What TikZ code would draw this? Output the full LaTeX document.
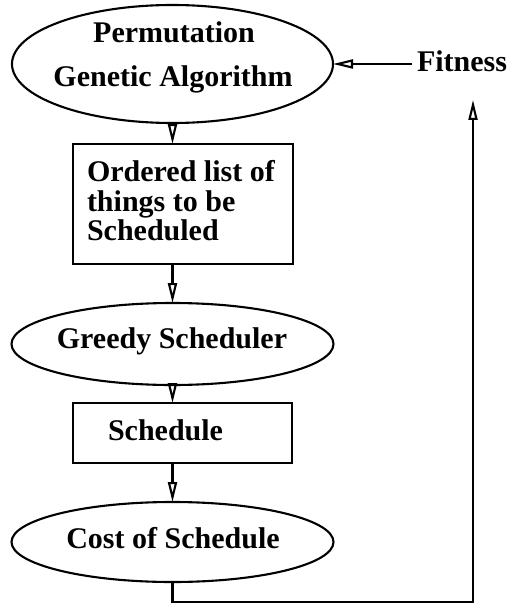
\documentclass[tikz,border=0pt]{standalone}
\usepackage{fontspec}
\setmainfont{Liberation Serif}
\usetikzlibrary{shapes.geometric,arrows.meta}
\begin{document}
\begin{tikzpicture}[x=1pt,y=-1pt,
  every node/.style={font=\bfseries\fontsize{30}{30}\selectfont},
  ell/.style={draw,ellipse,line width=2.1pt,inner sep=0pt,outer sep=0pt},
  rbox/.style={draw,rectangle,line width=2.1pt,inner sep=0pt,outer sep=0pt},
  txt/.style={inner sep=0pt,outer sep=0pt},
  arr/.style={line width=2.1pt,-{Triangle[open,length=20pt,width=9pt]}},
  ln/.style={line width=2.1pt}]
\useasboundingbox (0,0) rectangle (509,604);
% shapes
\node[ell,minimum width=321pt,minimum height=118pt] (ga) at (172.5,64) {};
\node[rbox,minimum width=220pt,minimum height=120pt] (list) at (183,204) {};
\node[ell,minimum width=322pt,minimum height=82pt] (gs) at (172.5,344) {};
\node[rbox,minimum width=219pt,minimum height=60pt] (sched) at (182.5,433) {};
\node[ell,minimum width=322pt,minimum height=80pt] (cost) at (172.5,542) {};
% texts
\node[txt,anchor=base] (t1) at (174,43) {Permutation};
\node[txt,anchor=base] (t2) at (173,87) {Genetic Algorithm};
\node[txt,anchor=base west] (t3) at (87,182) {Ordered list of};
\node[txt,anchor=base west] (t4) at (87,211) {things to be};
\node[txt,anchor=base west] (t5) at (87,240) {Scheduled};
\node[txt,anchor=base] (t6) at (172,348) {Greedy Scheduler};
\node[txt,anchor=base west] (t7) at (108,440) {Schedule};
\node[txt,anchor=base] (t8) at (173,548) {Cost of Schedule};
\node[txt,anchor=base west] (fit) at (417,72) {Fitness};
% connectors
\draw[arr] (ga.south) -- (ga.south |- list.north);
\draw[arr] (gs.north |- list.south) -- (gs.north);
\draw[arr] (gs.south) -- (gs.south |- sched.north);
\draw[arr] (cost.north |- sched.south) -- (cost.north);
\coordinate (fs) at (412,64);
\draw[arr] (fs) -- (ga.east);
\coordinate (c1) at (473,602);
\coordinate (tip) at (473,100);
\draw[arr,line join=miter] (cost.south) |- (c1) -- (tip);
\end{tikzpicture}
\end{document}
